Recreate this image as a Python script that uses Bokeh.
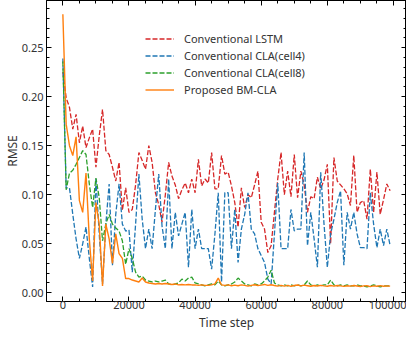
from bokeh.plotting import figure
from bokeh.models import (Range1d, SingleIntervalTicker, LinearAxis, Legend, LegendItem,
                          PrintfTickFormatter, BasicTickFormatter, CustomJSTickFormatter, Title)
from bokeh.embed import file_html
from bokeh.resources import INLINE

steps = list(range(0, 100000, 1000))

lstm = [0.225, 0.199, 0.189, 0.167, 0.182, 0.153, 0.170, 0.148, 0.158, 0.167,
        0.128, 0.160, 0.187, 0.145, 0.141, 0.128, 0.114, 0.133, 0.084, 0.107,
        0.082, 0.085, 0.110, 0.143, 0.135, 0.126, 0.150, 0.133, 0.102, 0.090,
        0.072, 0.100, 0.133, 0.119, 0.110, 0.096, 0.105, 0.112, 0.102, 0.116,
        0.102, 0.136, 0.109, 0.116, 0.112, 0.143, 0.106, 0.106, 0.140, 0.121,
        0.123, 0.109, 0.092, 0.067, 0.107, 0.087, 0.100, 0.097, 0.110, 0.124,
        0.072, 0.065, 0.041, 0.048, 0.082, 0.116, 0.143, 0.100, 0.124, 0.098,
        0.141, 0.097, 0.124, 0.110, 0.082, 0.098, 0.096, 0.118, 0.106, 0.115,
        0.131, 0.050, 0.138, 0.114, 0.110, 0.106, 0.101, 0.089, 0.140, 0.082,
        0.092, 0.094, 0.075, 0.126, 0.082, 0.123, 0.080, 0.095, 0.111, 0.104]

cla4 = [0.239, 0.107, 0.107, 0.080, 0.055, 0.035, 0.050, 0.067, 0.035, 0.006,
        0.117, 0.060, 0.009, 0.070, 0.111, 0.028, 0.080, 0.111, 0.070, 0.063,
        0.064, 0.021, 0.070, 0.121, 0.075, 0.045, 0.065, 0.045, 0.085, 0.121,
        0.068, 0.045, 0.116, 0.045, 0.082, 0.058, 0.070, 0.082, 0.026, 0.085,
        0.045, 0.065, 0.045, 0.045, 0.045, 0.024, 0.060, 0.102, 0.011, 0.102,
        0.102, 0.045, 0.085, 0.031, 0.065, 0.080, 0.102, 0.065, 0.060, 0.045,
        0.038, 0.031, 0.014, 0.009, 0.060, 0.112, 0.045, 0.045, 0.045, 0.085,
        0.063, 0.065, 0.065, 0.143, 0.048, 0.082, 0.055, 0.026, 0.123, 0.070,
        0.026, 0.060, 0.075, 0.092, 0.104, 0.028, 0.082, 0.065, 0.082, 0.060,
        0.046, 0.046, 0.045, 0.102, 0.070, 0.046, 0.065, 0.048, 0.065, 0.048]

cla8 = [0.236, 0.105, 0.122, 0.125, 0.131, 0.138, 0.145, 0.141, 0.111, 0.087,
        0.117, 0.097, 0.053, 0.070, 0.080, 0.070, 0.066, 0.063, 0.053, 0.029,
        0.045, 0.035, 0.021, 0.016, 0.017, 0.013, 0.012, 0.011, 0.012, 0.011,
        0.012, 0.013, 0.009, 0.008, 0.009, 0.010, 0.014, 0.012, 0.015, 0.016,
        0.010, 0.009, 0.008, 0.007, 0.008, 0.009, 0.008, 0.012, 0.008, 0.007,
        0.008, 0.009, 0.011, 0.015, 0.012, 0.009, 0.008, 0.007, 0.009, 0.008,
        0.009, 0.012, 0.016, 0.023, 0.010, 0.008, 0.007, 0.008, 0.007, 0.008,
        0.007, 0.008, 0.007, 0.008, 0.012, 0.008, 0.007, 0.008, 0.007, 0.008,
        0.008, 0.013, 0.008, 0.007, 0.008, 0.007, 0.008, 0.007, 0.007, 0.008,
        0.007, 0.007, 0.006, 0.007, 0.008, 0.007, 0.006, 0.007, 0.007, 0.007]

bmcla = [0.284, 0.172, 0.150, 0.140, 0.159, 0.094, 0.082, 0.122, 0.055, 0.012,
         0.092, 0.070, 0.007, 0.070, 0.055, 0.030, 0.060, 0.040, 0.035, 0.0145,
         0.0145, 0.013, 0.012, 0.011, 0.015, 0.011, 0.010, 0.0095, 0.009, 0.0095,
         0.009, 0.0095, 0.009, 0.0085, 0.009, 0.008, 0.0085, 0.008, 0.0085, 0.008,
         0.008, 0.0075, 0.008, 0.0075, 0.0075, 0.008, 0.009, 0.015, 0.008, 0.0075,
         0.008, 0.0072, 0.0078, 0.0072, 0.008, 0.0075, 0.0068, 0.0075, 0.0082, 0.0074,
         0.0078, 0.0085, 0.0076, 0.0082, 0.0074, 0.0068, 0.0076, 0.0068, 0.0075, 0.0066,
         0.0074, 0.0079, 0.0071, 0.0078, 0.0072, 0.0066, 0.0074, 0.0069, 0.0076, 0.0070,
         0.0066, 0.0074, 0.0068, 0.0074, 0.0070, 0.0065, 0.0072, 0.0068, 0.0074, 0.0069,
         0.0064, 0.0070, 0.0072, 0.0063, 0.0070, 0.0066, 0.0073, 0.0067, 0.0070, 0.0068]

names = ["Conventional LSTM", "Conventional CLA(cell4)", "Conventional CLA(cell8)", "Proposed BM-CLA"]
colors = ["#d62728", "#1f77b4", "#2ca02c", "#ff7f0e"]
x_title = "Time step"

FONT = "Noto Sans"
TXT = "#333333"

p = figure(width=406, height=330, output_backend="svg", toolbar_location=None,
           x_range=Range1d(-4950, 103950), y_range=Range1d(-0.0089, 0.2981),
           y_axis_label="RMSE",
           min_border_left=0, min_border_right=0, min_border_top=0, min_border_bottom=0)
p.background_fill_color = "white"
p.border_fill_color = "white"
p.outline_line_color = "black"
p.outline_line_width = 1
p.grid.visible = False

xt = SingleIntervalTicker(interval=20000, num_minor_ticks=4)
yt = SingleIntervalTicker(interval=0.05, num_minor_ticks=5)
p.xaxis.ticker = xt
p.yaxis.ticker = yt
p.xaxis.formatter = BasicTickFormatter(use_scientific=False)
p.yaxis.formatter = PrintfTickFormatter(format="%.2f")

blank = CustomJSTickFormatter(code="return '';")
p.add_layout(LinearAxis(ticker=xt, formatter=blank, major_label_standoff=0,
                        major_label_text_font_size="0px"), "above")
p.add_layout(LinearAxis(ticker=yt, formatter=blank, major_label_standoff=0,
                        major_label_text_font_size="0px"), "right")

for ax in p.axis:
    ax.major_tick_in = 5
    ax.major_tick_out = 0
    ax.minor_tick_in = 3
    ax.minor_tick_out = 0
    ax.axis_line_color = "black"
    ax.major_tick_line_color = "black"
    ax.minor_tick_line_color = "black"
    ax.major_label_text_font = FONT
    ax.axis_label_text_font = FONT
    ax.axis_label_text_font_style = "normal"
    ax.axis_label_text_color = TXT
    ax.major_label_text_color = TXT

p.below[0].major_label_text_font_size = "11px"
p.below[0].major_label_standoff = -1
p.left[0].major_label_text_font_size = "11px"
p.left[0].major_label_standoff = 3
p.left[0].axis_label_text_font_size = "12px"
p.left[0].axis_label_standoff = -2

p.add_layout(Title(text=x_title, align="center", text_font=FONT, text_font_size="12px",
                   text_font_style="normal", text_color=TXT, standoff=0, offset=0), "below")

series = [lstm, cla4, cla8, bmcla]
renderers = []
for i, (vals, c) in enumerate(zip(series, colors)):
    if i < 3:
        r = p.line(steps, vals, line_color=c, line_width=1.3, line_dash="5 2")
    else:
        r = p.line(steps, vals, line_color=c, line_width=1.4)
    renderers.append(r)

legend = Legend(items=[LegendItem(label=n, renderers=[r]) for n, r in zip(names, renderers)],
                location=(99, 204), border_line_color=None, background_fill_alpha=0,
                padding=0, margin=0, spacing=2, label_height=15, glyph_height=15,
                glyph_width=29, label_standoff=10, label_text_font=FONT,
                label_text_font_size="11px", label_text_color=TXT)
p.add_layout(legend)

open("out.html", "w").write(file_html(p, INLINE))
